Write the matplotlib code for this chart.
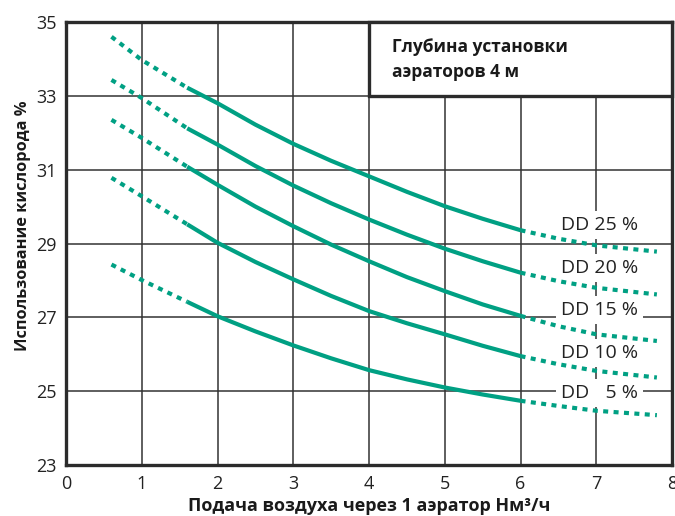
import numpy as np
import matplotlib
matplotlib.use('Agg')
import matplotlib.pyplot as plt
from matplotlib.patches import Rectangle

plt.rcParams['font.family'] = ['Open Sans', 'DejaVu Sans']

# Подача воздуха, Нм3/ч
x_left = [0.6, 1.0, 1.6]
x_mid = [1.6, 2.0, 2.5, 3.0, 3.5, 4.0, 4.5, 5.0, 5.5, 6.0]
x_right = [6.0, 6.5, 7.0, 7.8]

# Использование кислорода, % (по кривым DD)
dd25 = [34.6, 33.97, 33.22, 32.80, 32.22, 31.70, 31.24, 30.82, 30.40, 30.01,
        29.67, 29.36, 29.13, 28.95, 28.78]
dd20 = [33.43, 32.94, 32.12, 31.68, 31.10, 30.57, 30.09, 29.65, 29.24, 28.86,
        28.52, 28.21, 27.98, 27.80, 27.62]
dd15 = [32.35, 31.86, 31.08, 30.59, 30.00, 29.47, 28.97, 28.52, 28.09, 27.71,
        27.35, 27.04, 26.76, 26.54, 26.36]
dd10 = [30.78, 30.28, 29.52, 29.02, 28.50, 28.03, 27.58, 27.17, 26.84, 26.54,
        26.23, 25.95, 25.73, 25.55, 25.37]
dd5 = [28.43, 28.01, 27.42, 27.03, 26.62, 26.24, 25.89, 25.57, 25.32, 25.10,
       24.91, 24.74, 24.60, 24.47, 24.35]

curves = [dd25, dd20, dd15, dd10, dd5]
labels = ['DD 25 %', 'DD 20 %', 'DD 15 %', 'DD 10 %', 'DD \u20075 %']
label_y = [29.51, 28.34, 27.19, 26.03, 24.96]

x_ticks = [0, 1, 2, 3, 4, 5, 6, 7, 8]
y_ticks = [23, 25, 27, 29, 31, 33, 35]

green = '#00a083'
dark = '#2b2b2b'

fig = plt.figure(figsize=(6.75, 5.16), dpi=100)
ax = fig.add_axes([0.0978, 0.0988, 0.8978, 0.8586])

ax.set_xlim(0, 8)
ax.set_ylim(23, 35)
ax.set_xticks(x_ticks)
ax.set_yticks(y_ticks)
ax.tick_params(length=0, labelsize=13, colors='#222222', pad=7)
ax.grid(True, color='#333333', linewidth=1.1, zorder=0.5)
ax.set_axisbelow(True)
for s in ax.spines.values():
    s.set_linewidth(2.4)
    s.set_color(dark)

n_l = len(x_left)
n_m = len(x_mid)
for ys in curves:
    yl = ys[:n_l]
    ym = ys[n_l - 1:n_l - 1 + n_m]
    yr = ys[n_l - 2 + n_m:]
    ax.plot(x_left, yl, color=green, lw=3, ls=(0, (1.2, 1.3)),
            dash_capstyle='butt', zorder=3)
    ax.plot(x_mid, ym, color=green, lw=3, solid_capstyle='butt', zorder=3)
    ax.plot(x_right, yr, color=green, lw=3, ls=(0, (1.2, 1.3)),
            dash_capstyle='butt', zorder=3)

for lab, ly in zip(labels, label_y):
    ax.text(7.04, ly, lab, ha='center', va='center', fontsize=14,
            color='#222222', zorder=2,
            bbox=dict(boxstyle='square,pad=0.25', fc='white', ec='none'))

# рамка с подписью
ax.add_patch(Rectangle((4, 33), 4, 2, facecolor='white', edgecolor=dark,
                       linewidth=2.4, zorder=4, clip_on=False))
ax.text(4.3, 33.98, 'Глубина установки\nаэраторов 4 м', ha='left',
        va='center', fontsize=12.5, fontweight='bold', linespacing=1.5,
        color='#1a1a1a', zorder=5)

ax.set_xlabel('Подача воздуха через 1 аэратор Нм³/ч', fontsize=13,
              fontweight='bold', color='#1a1a1a', labelpad=3)
ax.set_ylabel('Использование кислорода %', fontsize=11.8,
              fontweight='bold', color='#1a1a1a')
ax.yaxis.set_label_coords(-0.058, 0.54)

fig.savefig('out.png', dpi=100)
